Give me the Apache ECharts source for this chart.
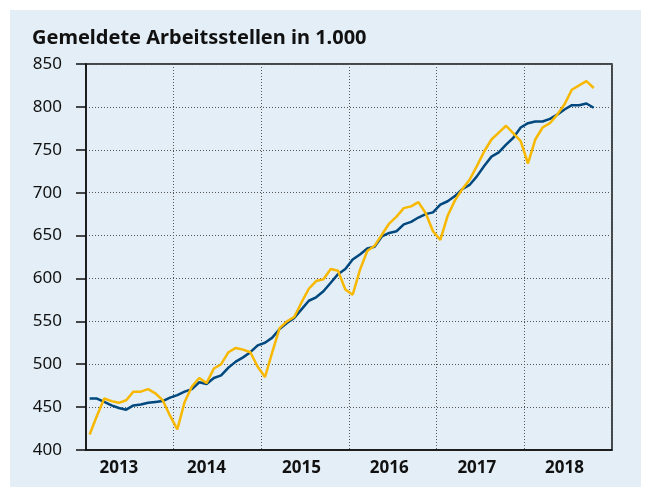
<!DOCTYPE html>
<html>
<head>
<meta charset="utf-8">
<script src="https://cdn.jsdelivr.net/npm/echarts@6/dist/echarts.min.js"></script>
<style>
html, body {
	margin: 0;
	padding: 0;
	background: #ffffff;
}
#wrap {
	position: relative;
	width: 648px;
	height: 487px;
	background: #ffffff;
}
#container {
	position: absolute;
	left: 10px;
	top: 10px;
	width: 631px;
	height: 477px;
}
</style>
</head>
<body>
<div id="wrap"><div id="container"></div></div>
<script type="text/javascript">
	// Gemeldete Arbeitsstellen, monthly Jan 2013 - Oct 2018 (in 1.000)
	var years = ['2013', '2014', '2015', '2016', '2017', '2018'];
	var yTicks = {min: 400, max: 850, step: 50};
	// month index under which each year label sits
	var yearLabelAt = [4, 16, 29, 41, 53, 65];

	// seasonally adjusted (dark blue)
	var bereinigt = [
		460, 460, 456, 452, 449, 447, 452, 453, 455, 456, 457, 461,
		464, 468, 471, 479, 477, 484, 487, 496, 503, 508, 514, 522,
		525, 531, 541, 548, 554, 564, 574, 578, 585, 595, 605, 611,
		622, 628, 635, 637, 649, 653, 655, 663, 666, 671, 675, 677,
		686, 690, 696, 704, 709, 719, 731, 742, 747, 756, 764, 776,
		781, 783, 783, 786, 791, 797, 802, 802, 804, 799
	];
	// unadjusted (yellow)
	var ursprung = [
		418, 440, 460, 457, 455, 458, 468, 468, 471, 466, 458, 440,
		424, 456, 474, 484, 478, 495, 500, 514, 519, 517, 514, 497,
		485, 514, 542, 550, 555, 572, 588, 597, 599, 611, 609, 587,
		581, 610, 632, 638, 651, 664, 672, 682, 684, 689, 676, 655,
		645, 673, 691, 704, 715, 731, 748, 762, 770, 778, 769, 760,
		734, 762, 776, 781, 791, 803, 820, 825, 830, 822
	];

	// one category per month, whole years
	var months = [];
	for (var y = 0; y < years.length; y++) {
		for (var m = 1; m <= 12; m++) {
			months.push(years[y] + '-' + (m < 10 ? '0' + m : m));
		}
	}

	var dom = document.getElementById("container");
	var myChart = echarts.init(dom, null, {renderer: 'canvas'});
	var option = {
		animation: false,
		backgroundColor: '#e3eef6',
		textStyle: {
			fontFamily: '"Noto Sans", "DejaVu Sans", sans-serif'
		},
		title: {
			text: 'Gemeldete Arbeitsstellen in 1.000',
			left: 17,
			top: 13,
			textStyle: {
				fontSize: 20,
				fontWeight: 'bold',
				color: '#111111',
				fontFamily: '"Noto Sans", sans-serif'
			}
		},
		grid: {
			left: 76,
			right: 29,
			top: 54,
			bottom: 37,
			show: true,
			borderColor: '#111111',
			borderWidth: 1.5,
			containLabel: false
		},
		xAxis: {
			type: 'category',
			data: months,
			boundaryGap: true,
			axisLine: {show: true, lineStyle: {color: '#111111', width: 1.5}},
			axisTick: {show: false},
			axisLabel: {
				show: true,
				interval: function (index) {
					return yearLabelAt.indexOf(index) !== -1;
				},
				formatter: function (value) {
					return value.slice(0, 4);
				},
				margin: 10,
				fontSize: 17,
				fontWeight: 'bold',
				color: '#111111',
				hideOverlap: false
			},
			splitLine: {
				show: true,
				interval: function (index) {
					return index > 0 && index % 12 === 0;
				},
				lineStyle: {color: '#555555', type: [1, 2], width: 1}
			}
		},
		yAxis: {
			type: 'value',
			min: yTicks.min,
			max: yTicks.max,
			interval: yTicks.step,
			axisLine: {show: true, lineStyle: {color: '#111111', width: 1.5}},
			axisTick: {show: true, length: 10, lineStyle: {color: '#111111', width: 1.5}},
			axisLabel: {margin: 24, fontSize: 17, color: '#111111'},
			splitLine: {
				show: true,
				lineStyle: {color: '#555555', type: [1, 2], width: 1}
			}
		},
		series: [
			{
				name: 'saisonbereinigt',
				type: 'line',
				data: bereinigt,
				showSymbol: false,
				lineStyle: {color: '#00487e', width: 2.5},
				itemStyle: {color: '#00487e'},
				z: 3
			},
			{
				name: 'Ursprungswerte',
				type: 'line',
				data: ursprung,
				showSymbol: false,
				lineStyle: {color: '#f8b800', width: 2.5},
				itemStyle: {color: '#f8b800'},
				z: 4
			}
		]
	};

	if (option && typeof option === "object") {
		myChart.setOption(option, true);
	}
</script>
</body>
</html>
